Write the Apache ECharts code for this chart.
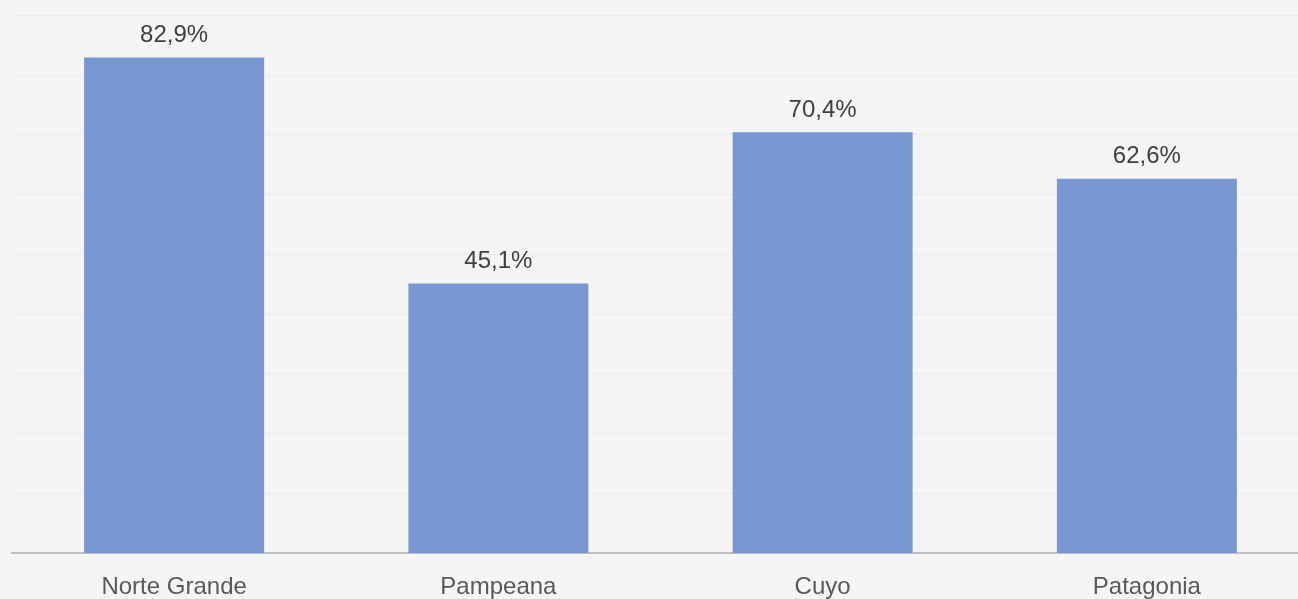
<!DOCTYPE html>
<html><head><meta charset="utf-8">
<script src="https://cdn.jsdelivr.net/npm/echarts@6/dist/echarts.min.js"></script>
<style>html,body{margin:0;padding:0;background:#f5f5f5;overflow:hidden}#c{width:1320px;height:599px}</style>
</head><body><div id="c"></div>
<script>
const categories = ["Norte Grande", "Pampeana", "Cuyo", "Patagonia"];
const values = [82.9, 45.1, 70.4, 62.6];
const chart = echarts.init(document.getElementById('c'));
chart.setOption({
  backgroundColor: '#f5f5f5',
  animation: false,
  grid: {left: 12, right: 11, top: 15, bottom: 46, containLabel: false},
  xAxis: {
    type: 'category', data: categories,
    axisLine: {lineStyle: {color: '#bfbfbf', width: 2}},
    axisTick: {show: false},
    axisLabel: {color: '#595959', fontSize: 24, fontFamily: 'Liberation Sans, Arial, sans-serif', margin: 22}
  },
  yAxis: {
    type: 'value', min: 0, max: 90, interval: 10,
    axisLabel: {show: false}, axisLine: {show: false}, axisTick: {show: false},
    splitLine: {lineStyle: {color: '#ebebeb', width: 1}}
  },
  series: [{
    type: 'bar', data: values, barWidth: 180,
    itemStyle: {color: '#7998d3'},
    label: {show: true, position: 'top', distance: 10, color: '#404040', fontSize: 24,
      fontFamily: 'Liberation Sans, Arial, sans-serif',
      formatter: p => p.value.toFixed(1).replace('.', ',') + '%'}
  }]
});
</script></body></html>
